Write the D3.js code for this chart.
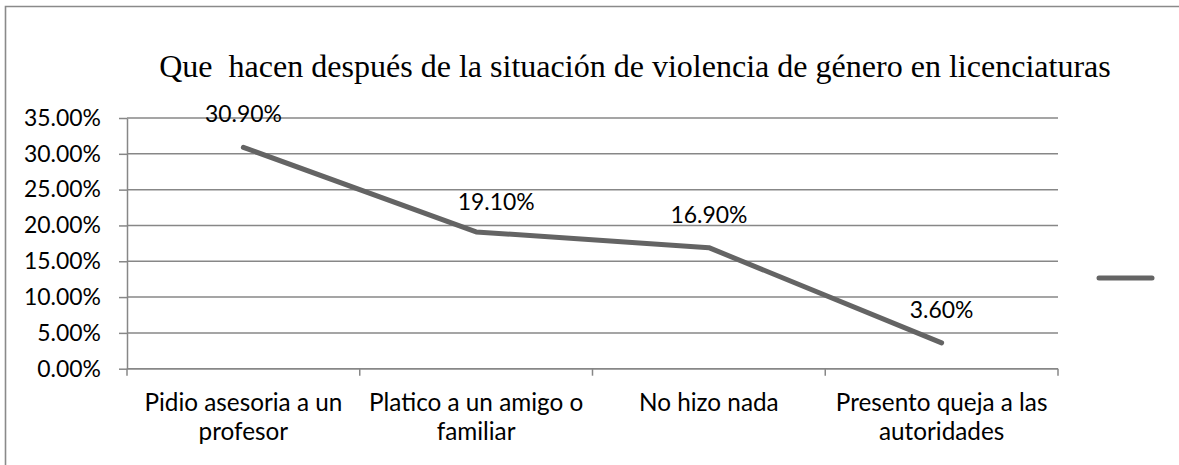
<!DOCTYPE html>
<html>
<head>
<meta charset="utf-8">
<script src="https://cdn.jsdelivr.net/npm/d3@7"></script>
<style>
    html, body { margin: 0; background: #fff; overflow: hidden; }
    svg { display: block; }
</style>
</head>
<body>
<svg id="chart"></svg>
<script>
const title = 'Que  hacen después de la situación de violencia de género en licenciaturas';
const categories = ['Pidio asesoria a un profesor', 'Platico a un amigo o familiar', 'No hizo nada', 'Presento queja a las autoridades'];
const categoryLines = [
    ['Pidio asesoria a un', 'profesor'],
    ['Platico a un amigo o', 'familiar'],
    ['No hizo nada'],
    ['Presento queja a las', 'autoridades']
];
const values = [0.309, 0.191, 0.169, 0.036];
const yTicks = [0, 0.05, 0.10, 0.15, 0.20, 0.25, 0.30, 0.35];

const settings = {
    width: 1179,
    height: 465,
    plot: { left: 127, right: 1058, top: 118, bottom: 368.7 },
    serif: '"Liberation Serif", "Times New Roman", serif',
    sans: 'Lato, "Open Sans", sans-serif',
    style: {
        lineColor: '#646464',
        gridColor: '#878787',
        borderColor: '#8a8a8a',
        textColor: '#000'
    }
};

let svg = d3.select('#chart')
    .attr('width', settings.width)
    .attr('height', settings.height);

// pick a font size so a sample string gets the wanted width
function fitSize(text, family, targetWidth) {
    let t = svg.append('text')
        .style('font-family', family)
        .style('font-size', '100px')
        .text(text);
    let w = t.node().getComputedTextLength();
    t.remove();
    return 100 * targetWidth / w;
}

const titleSize = fitSize(title, settings.serif, 944);
const labelSize = fitSize('Pidio asesoria a un', settings.sans, 198);
const numberSize = fitSize('35.00%', settings.sans, 77);

// outer border (cropped at right and bottom)
svg.append('path')
    .attr('d', 'M5.5,' + settings.height + 'V6.5H' + settings.width)
    .attr('fill', 'none')
    .attr('stroke', settings.style.borderColor)
    .attr('stroke-width', 1.6);

let x = d3.scaleBand()
    .domain(categories)
    .range([settings.plot.left, settings.plot.right]);

let y = d3.scaleLinear()
    .domain([0, 0.35])
    .range([settings.plot.bottom, settings.plot.top]);

let pct = d => (d * 100).toFixed(2) + '%';

// gridlines
svg.append('g')
    .selectAll('line')
    .data(yTicks).enter().append('line')
    .attr('x1', settings.plot.left)
    .attr('x2', settings.plot.right)
    .attr('y1', d => y(d))
    .attr('y2', d => y(d))
    .attr('stroke', settings.style.gridColor)
    .attr('stroke-width', 1.5);

// y axis
let yAxis = svg.append('g')
    .attr('transform', 'translate(' + settings.plot.left + ',0)')
    .call(d3.axisLeft(y).tickValues(yTicks).tickFormat(pct).tickSize(8).tickSizeOuter(0).tickPadding(18));
yAxis.select('.domain').attr('stroke', settings.style.gridColor).attr('stroke-width', 1.5);
yAxis.selectAll('.tick line').attr('stroke', settings.style.gridColor).attr('stroke-width', 1.5);
yAxis.selectAll('.tick text')
    .style('font-family', settings.sans)
    .style('font-size', numberSize + 'px')
    .attr('fill', settings.style.textColor);

// x axis line and boundary ticks
let xAxis = svg.append('g');
xAxis.append('line')
    .attr('x1', settings.plot.left)
    .attr('x2', settings.plot.right)
    .attr('y1', y(0))
    .attr('y2', y(0))
    .attr('stroke', settings.style.gridColor)
    .attr('stroke-width', 1.5);
let bounds = categories.map(c => x(c)).concat([x(categories[categories.length - 1]) + x.bandwidth()]);
xAxis.selectAll('.xtick')
    .data(bounds).enter().append('line')
    .attr('class', 'xtick')
    .attr('x1', d => d)
    .attr('x2', d => d)
    .attr('y1', y(0))
    .attr('y2', y(0) + 7)
    .attr('stroke', settings.style.gridColor)
    .attr('stroke-width', 1.5);

// category labels
let catLabels = xAxis.selectAll('.cat')
    .data(categories).enter().append('text')
    .attr('class', 'cat')
    .attr('text-anchor', 'middle')
    .attr('x', d => x(d) + x.bandwidth() / 2)
    .attr('y', 411)
    .style('font-family', settings.sans)
    .style('font-size', labelSize + 'px')
    .attr('fill', settings.style.textColor);
catLabels.each(function (d, i) {
    let t = d3.select(this);
    categoryLines[i].forEach(function (line, j) {
        t.append('tspan')
            .attr('x', x(d) + x.bandwidth() / 2)
            .attr('dy', j === 0 ? 0 : 29)
            .text(line);
    });
});

// the series line
let cx = d => x(d) + x.bandwidth() / 2;
let points = categories.map((c, i) => [cx(c), y(values[i])]);
svg.append('path')
    .attr('d', d3.line()(points))
    .attr('fill', 'none')
    .attr('stroke', settings.style.lineColor)
    .attr('stroke-width', 5)
    .attr('stroke-linejoin', 'round')
    .attr('stroke-linecap', 'round');

// data labels (the second one was moved a bit in the original)
const nudge = [[0, 0], [20, 3], [0, 0], [0, 0]];
svg.append('g')
    .selectAll('text')
    .data(values).enter().append('text')
    .attr('text-anchor', 'middle')
    .attr('x', (d, i) => cx(categories[i]) + nudge[i][0])
    .attr('y', (d, i) => y(d) - 25 + nudge[i][1])
    .style('font-family', settings.sans)
    .style('font-size', numberSize + 'px')
    .attr('fill', settings.style.textColor)
    .text(d => pct(d));

// title
svg.append('text')
    .attr('x', 635)
    .attr('y', 77)
    .attr('text-anchor', 'middle')
    .style('font-family', settings.serif)
    .style('font-size', titleSize + 'px')
    .attr('fill', settings.style.textColor)
    .style('white-space', 'pre')
    .text(title);

// legend key without text
svg.append('line')
    .attr('x1', 1099)
    .attr('x2', 1152)
    .attr('y1', 278)
    .attr('y2', 278)
    .attr('stroke', settings.style.lineColor)
    .attr('stroke-width', 5)
    .attr('stroke-linecap', 'round');
</script>
</body>
</html>
